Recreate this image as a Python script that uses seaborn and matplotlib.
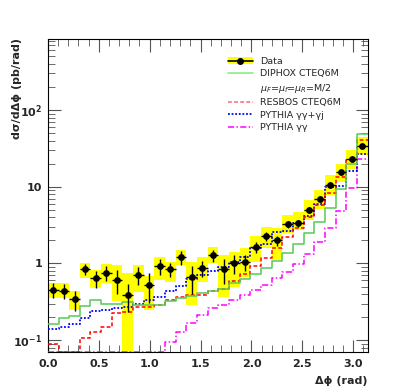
import numpy as np
import pandas as pd
import matplotlib
matplotlib.use("Agg")
import matplotlib.pyplot as plt
import seaborn as sns
from matplotlib.lines import Line2D
from matplotlib.patches import Patch
from matplotlib.ticker import FixedLocator, FixedFormatter, MultipleLocator, LogLocator, NullFormatter

# ---------------- data ----------------
n_bins = 30
x_max = np.pi

data_vals = [0.45, 0.44, 0.34, 0.84, 0.64, 0.76, 0.61, 0.39, 0.71, 0.53,
             0.93, 0.84, 1.20, 0.66, 0.87, 1.28, 0.84, 1.00, 1.05, 1.63,
             2.27, 2.00, 3.25, 3.35, 5.00, 6.95, 10.4, 15.4, 22.8, 34.0]
stat_rel = [0.22, 0.22, 0.30, 0.16, 0.25, 0.23, 0.35, 0.40, 0.27, 0.43,
            0.23, 0.20, 0.20, 0.39, 0.23, 0.18, 0.35, 0.27, 0.24, 0.16,
            0.13, 0.15, 0.11, 0.11, 0.10, 0.09, 0.08, 0.08, 0.07, 0.07]
sys_lo = [0.35, 0.35, 0.25, 0.65, 0.48, 0.55, 0.32, 0.0, 0.42, 0.25,
          0.61, 0.58, 0.95, 0.29, 0.58, 1.00, 0.37, 0.50, 0.67, 1.05,
          1.57, 1.10, 2.46, 2.70, 3.67, 5.20, 7.80, 11.6, 17.3, 25.8]
sys_hi = [0.55, 0.55, 0.44, 1.00, 0.82, 0.97, 0.95, 0.74, 0.95, 0.68,
          1.20, 1.05, 1.52, 1.05, 1.22, 1.65, 1.28, 1.40, 1.60, 2.27,
          2.95, 2.86, 4.26, 4.70, 6.70, 9.00, 14.2, 20.0, 30.0, 44.7]

diphox = [0.163, 0.195, 0.205, 0.277, 0.33, 0.30, 0.295, 0.31, 0.29, 0.29,
          0.29, 0.32, 0.35, 0.38, 0.41, 0.44, 0.47, 0.55, 0.63, 0.725,
          0.87, 1.07, 1.35, 1.78, 2.46, 3.45, 5.30, 9.40, 20.0, 48.6]
resbos = [0.088, 0.05, 0.05, 0.106, 0.126, 0.149, 0.223, 0.234, 0.27, 0.27,
          0.29, 0.33, 0.37, 0.385, 0.39, 0.44, 0.47, 0.59, 0.73, 0.92,
          1.19, 1.57, 2.18, 2.86, 4.07, 5.75, 8.20, 13.4, 22.5, 40.5]
pythia_all = [0.138, 0.149, 0.160, 0.196, 0.24, 0.246, 0.259, 0.27, 0.295, 0.33,
              0.37, 0.44, 0.506, 0.62, 0.70, 0.80, 0.89, 1.03, 1.20, 1.60,
              1.80, 2.55, 2.65, 3.40, 4.20, 6.00, 9.80, 10.3, 16.0, 27.0]
pythia_gg = [0.03, 0.03, 0.03, 0.03, 0.03, 0.03, 0.03, 0.03, 0.03, 0.03,
             0.03, 0.094, 0.128, 0.168, 0.212, 0.26, 0.29, 0.33, 0.39, 0.45,
             0.53, 0.64, 0.78, 0.99, 1.33, 1.90, 2.88, 4.90, 9.70, 22.7]

legend_labels = ["Data", "DIPHOX CTEQ6M", r"$\mu_{F}$=$\mu_{f}$=$\mu_{R}$=M/2",
                 "RESBOS CTEQ6M", "PYTHIA γγ+γj", "PYTHIA γγ"]

# ---------------- style ----------------
sns.set_theme(style="ticks")
plt.rcParams['font.family'] = ['DejaVu Sans']
plt.rcParams['mathtext.fontset'] = 'dejavusans'

ymin, ymax = 0.07, 840

fig = plt.figure(figsize=(4.09, 3.92), dpi=100)
ax = fig.add_axes([0.117, 0.102, 0.782, 0.798])

edges = np.linspace(0, x_max, n_bins + 1)
centers = 0.5 * (edges[:-1] + edges[1:])
width = edges[1] - edges[0]

df = pd.DataFrame({
    "dphi": centers,
    "data": data_vals,
    "diphox": diphox,
    "resbos": resbos,
    "pythia_all": pythia_all,
    "pythia_gg": pythia_gg,
})

# systematic boxes
lo = np.maximum(np.array(sys_lo), ymin * 0.5)
hi = np.array(sys_hi)
ax.bar(centers, hi - lo, bottom=lo, width=width, color="#ffff00",
       linewidth=0, zorder=1)

# theory histograms (values below the axis are drawn on the lower edge)
floor = ymin * 1.015
curves = [
    ("pythia_gg", "#ff00ff", (0, (4, 1.5, 1, 1.5)), 1.1),
    ("pythia_all", "#0000ff", (0, (1, 1)), 1.3),
    ("resbos", "#ff0000", (0, (2.5, 1.5)), 1.1),
    ("diphox", "#55cc55", "-", 1.1),
]
for col, color, ls, lw in curves:
    df[col + "_shown"] = df[col].clip(lower=floor)
    sns.histplot(data=df, x="dphi", weights=col + "_shown", bins=list(edges),
                 element="step", fill=False, color=color, linestyle=ls,
                 linewidth=lw, ax=ax, zorder=3)

# data with stat errors
yerr = np.array(data_vals) * np.array(stat_rel)
ax.errorbar(df["dphi"], df["data"], xerr=width / 2, yerr=yerr, fmt="none",
            ecolor="black", elinewidth=1.0, capsize=0, zorder=4)
sns.scatterplot(data=df, x="dphi", y="data", color="black", s=24,
                edgecolor="black", linewidth=0, ax=ax, zorder=5)

# axes
ax.set_yscale("log")
ax.set_xlim(0, x_max)
ax.set_ylim(ymin, ymax)
ax.xaxis.set_major_locator(MultipleLocator(0.5))
ax.xaxis.set_minor_locator(MultipleLocator(0.1))
ax.yaxis.set_major_locator(FixedLocator([0.1, 1, 10, 100]))
ax.yaxis.set_major_formatter(FixedFormatter([r"$\mathbf{10^{-1}}$", "1", "10", r"$\mathbf{10^{2}}$"]))
ax.yaxis.set_minor_locator(LogLocator(base=10, subs=np.arange(2, 10)))
ax.yaxis.set_minor_formatter(NullFormatter())
ax.tick_params(which="both", direction="in", top=True, right=True, color="#555555")
ax.tick_params(which="major", length=9, width=0.8, labelsize=8, pad=4)
ax.tick_params(which="minor", length=5, width=0.6)
ax.tick_params(axis="x", which="major", pad=5)
for lab in ax.get_xticklabels() + ax.get_yticklabels():
    lab.set_fontweight("bold")
for sp in ax.spines.values():
    sp.set_linewidth(0.8)
    sp.set_color("black")

ax.set_xlabel("Δϕ (rad)", loc="right", fontsize=8, fontweight="bold", labelpad=5)
ax.set_ylabel("")
fig.text(17 / 409, 1 - 38 / 392, "dσ/dΔϕ (pb/rad)", rotation=90, ha="center",
         va="top", fontsize=8, fontweight="bold")

# legend
h_data = (Patch(facecolor="#ffff00", edgecolor="none"),
          Line2D([], [], color="black", marker="o", markersize=4, linewidth=1.2))
handles = [
    h_data,
    Line2D([], [], color="#88ee88", linewidth=1.2),
    Line2D([], [], color="none"),
    Line2D([], [], color="#ff6666", linestyle=(0, (2.5, 1.5)), linewidth=1.1),
    Line2D([], [], color="#0000ff", linestyle=(0, (1, 1)), linewidth=1.3),
    Line2D([], [], color="#ff00ff", linestyle=(0, (4, 1.5, 1, 1.5)), linewidth=1.1),
]
leg = ax.legend(handles, legend_labels, loc="upper left",
                bbox_to_anchor=(0.55, 0.955), frameon=False, fontsize=6.8,
                handlelength=2.65, handletextpad=0.75, labelspacing=0.36,
                borderaxespad=0)

fig.savefig("out.png", dpi=100)
